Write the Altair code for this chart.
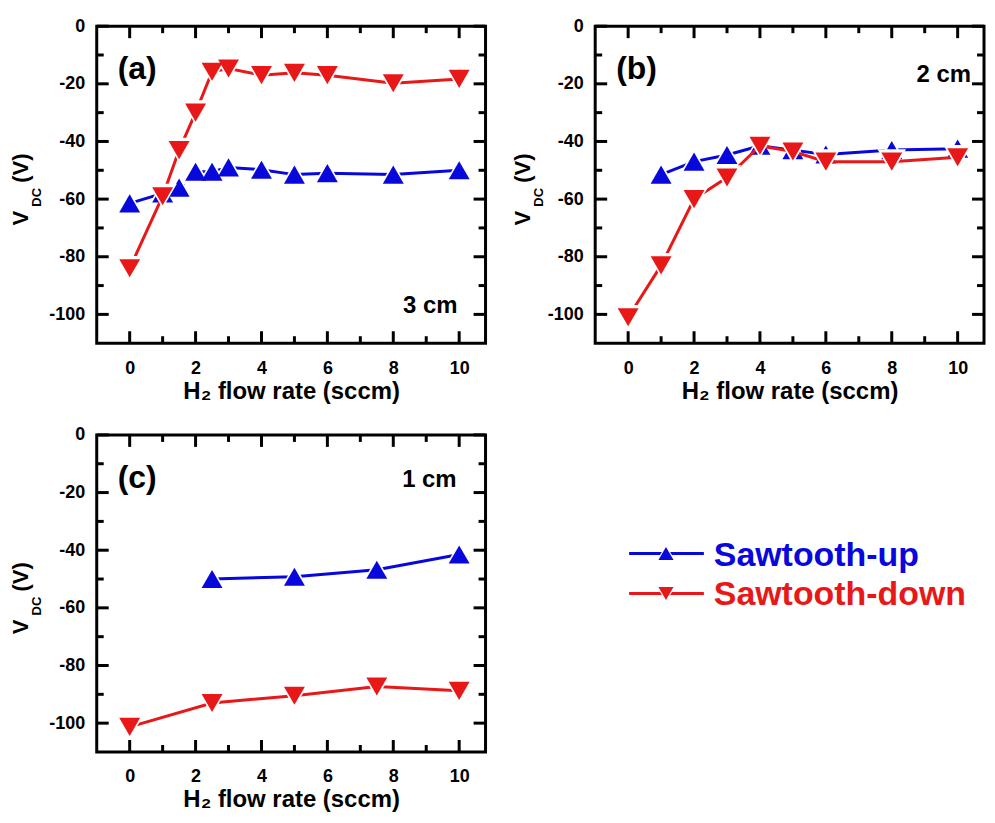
import altair as alt
import pandas as pd

# ---------------- data ----------------
a_x = [0, 1, 1.5, 2, 2.5, 3, 4, 5, 6, 8, 10]
a_up = [-61.5, -58, -56, -50.5, -50.5, -49, -49.8, -51.5, -51, -51.5, -50]
a_down = [-84, -59, -43, -30, -15.8, -14.7, -17, -16.2, -17, -19.8, -18.3]

b_x_up = [1, 2, 3, 4, 5, 6, 8, 10]
b_up = [-51.5, -47, -44.7, -41.5, -43, -44.5, -43, -42.5]
b_x_down = [0, 1, 2, 3, 4, 5, 6, 8, 10]
b_down = [-101, -83, -60, -52.5, -41.5, -43.5, -47, -47, -45.5]

c_x_up = [2.5, 5, 7.5, 10]
c_up = [-50, -49.2, -46.8, -41.5]
c_x_down = [0, 2.5, 5, 7.5, 10]
c_down = [-101.3, -93, -90.5, -87.3, -88.8]

x_major = [0, 2, 4, 6, 8, 10]
x_minor = [1, 3, 5, 7, 9]
y_major = [0, -20, -40, -60, -80, -100]
y_minor = [-10, -30, -50, -70, -90]

series_names = ["Sawtooth-up", "Sawtooth-down"]
panel_labels = ["(a)", "(b)", "(c)"]
distance_labels = ["3 cm", "2 cm", "1 cm"]
x_title = "H\u2082 flow rate (sccm)"
y_title_parts = ["V", "DC", "(V)"]

# ---------------- style ----------------
W, H = 390, 318
BLUE = "#0808dc"
RED = "#e81818"
FONT = "Liberation Sans"
MAJ, MIN = 12, 7

XS = alt.Scale(domain=[-1, 10.8], nice=False, zero=False)
YS = alt.Scale(domain=[-110, 0], nice=False, zero=False)

XAX = alt.Axis(values=x_major, ticks=False, domain=False, grid=False,
               labelFont=FONT, labelFontSize=18, labelFontWeight="bold",
               labelColor="black", labelPadding=16, labelFlush=False,
               labelExpr="toString(datum.value)",
               title=x_title, titleFont=FONT, titleFontSize=24,
               titleFontWeight="bold", titleColor="black", titlePadding=2)
YAX = alt.Axis(values=y_major, ticks=False, domain=False, grid=False,
               labelFont=FONT, labelFontSize=18, labelFontWeight="bold",
               labelColor="black", labelPadding=12, labelFlush=False,
               labelExpr="toString(datum.value)", title=None)


def X(field):
    return alt.X(f"{field}:Q", scale=XS, axis=XAX)


def Y(field):
    return alt.Y(f"{field}:Q", scale=YS, axis=YAX)


def series_layers(xs, ys, color, shape):
    df = pd.DataFrame({"x": xs, "v": ys})
    base = alt.Chart(df)
    line = base.mark_line(color=color, strokeWidth=3).encode(x=X("x"), y=Y("v"))
    halo = base.mark_point(shape=shape, filled=True, color="white", opacity=1,
                           size=820).encode(x=X("x"), y=Y("v"))
    pts = base.mark_point(shape=shape, filled=True, color=color, opacity=1,
                          size=440).encode(x=X("x"), y=Y("v"))
    return [line, halo, pts]


def tick_layers():
    layers = []
    for vals, ln in ((x_major, MAJ), (x_minor, MIN)):
        d = alt.Chart(pd.DataFrame({"t": vals}))
        layers.append(d.mark_rule(color="black", strokeWidth=3).encode(
            x=X("t"), x2=alt.X2("t:Q"), y=alt.value(H), y2=alt.value(H - ln)))
        layers.append(d.mark_rule(color="black", strokeWidth=3).encode(
            x=X("t"), x2=alt.X2("t:Q"), y=alt.value(0), y2=alt.value(ln)))
    for vals, ln in ((y_major, MAJ), (y_minor, MIN)):
        d = alt.Chart(pd.DataFrame({"t": vals}))
        layers.append(d.mark_rule(color="black", strokeWidth=3).encode(
            y=Y("t"), y2=alt.Y2("t:Q"), x=alt.value(0), x2=alt.value(ln)))
        layers.append(d.mark_rule(color="black", strokeWidth=3).encode(
            y=Y("t"), y2=alt.Y2("t:Q"), x=alt.value(W - ln), x2=alt.value(W)))
    return layers


def text_layer(s, x, y, size, align="left", baseline="alphabetic",
               color="black", angle=0):
    kw = dict(font=FONT, fontSize=size, fontWeight="bold", align=align,
              baseline=baseline, color=color)
    if angle:
        kw["angle"] = angle
    return alt.Chart(pd.DataFrame({"s": [s]})).mark_text(**kw).encode(
        x=alt.value(x), y=alt.value(y), text="s:N")


def ytitle_layers(xb):
    return [
        text_layer(y_title_parts[0], xb, 200, 22, angle=270),
        text_layer(y_title_parts[1], xb + 13, 181, 13, angle=270),
        text_layer(y_title_parts[2], xb, 157, 22, angle=270),
    ]


def panel(up, down, label, dist, dist_xy, ytx, extra=None):
    layers = tick_layers()
    layers += series_layers(up[0], up[1], BLUE, "triangle-up")
    layers += series_layers(down[0], down[1], RED, "triangle-down")
    layers.append(text_layer(label, 21, 43, 32, baseline="middle"))
    layers.append(text_layer(dist, dist_xy[0], dist_xy[1], 24, align="right"))
    layers += ytitle_layers(ytx)
    if extra:
        layers += extra
    return alt.layer(*layers).properties(width=W, height=H)


def legend_layers():
    out = []
    items = [(series_names[0], BLUE, "triangle-up", 119),
             (series_names[1], RED, "triangle-down", 159)]
    for name, col, shp, yy in items:
        d = alt.Chart(pd.DataFrame({"s": [name]}))
        out.append(d.mark_rule(color=col, strokeWidth=3).encode(
            x=alt.value(534), x2=alt.value(609), y=alt.value(yy)))
        out.append(d.mark_point(shape=shp, filled=True, color="white",
                                opacity=1, size=420).encode(
            x=alt.value(571), y=alt.value(yy)))
        out.append(d.mark_point(shape=shp, filled=True, color=col,
                                opacity=1, size=230).encode(
            x=alt.value(571), y=alt.value(yy)))
        out.append(text_layer(name, 619, yy + 12, 34, color=col))
    return out


pa = panel((a_x, a_up), (a_x, a_down), panel_labels[0], distance_labels[0],
           (W - 28, 288), -69)
pb = panel((b_x_up, b_up), (b_x_down, b_down), panel_labels[1],
           distance_labels[1], (W - 13, 56), -65)
pc = panel((c_x_up, c_up), (c_x_down, c_down), panel_labels[2],
           distance_labels[2], (W - 29, 52), -69, extra=legend_layers())

chart = alt.concat(
    pa, pb, pc,
    columns=2,
    spacing={"row": 92, "column": 110},
    bounds="flush",
).properties(
    padding={"left": 0, "top": 6, "right": 0, "bottom": 0},
    background="white",
).configure_view(stroke="black", strokeWidth=3)

chart.save("out.html", embed_options={"renderer": "svg", "actions": False})
